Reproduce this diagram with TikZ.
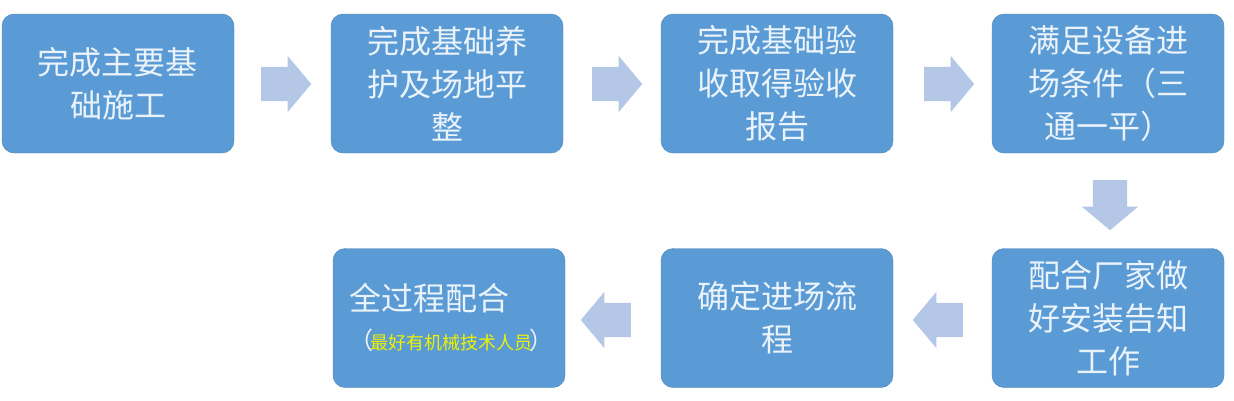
\documentclass[tikz,border=0pt]{standalone}
\usepackage{fontspec}
\newfontfamily\cjk{Noto Sans CJK SC}
\usetikzlibrary{shapes.arrows}
\definecolor{boxblue}{HTML}{5B9BD5}
\definecolor{arrowblue}{HTML}{B4C7E7}
\definecolor{txt}{HTML}{EAF2FA}
\definecolor{yel}{HTML}{EEF200}
\begin{document}
\begin{tikzpicture}[x=1pt,y=-1pt,
  stepbox/.style={fill=boxblue, draw=boxblue!85!black, line width=0.4pt, rounded corners=12pt,
    minimum width=232pt, minimum height=139pt, inner sep=0pt,
    text width=200pt, align=center, text=txt,
    font=\cjk\fontsize{32}{43}\selectfont},
  blockarrow/.style={single arrow, fill=arrowblue, draw=none, inner xsep=0pt, inner ysep=17pt,
    minimum height=50pt, single arrow head extend=11pt, single arrow tip angle=100}]
\useasboundingbox (0,0) rectangle (1234,400);
\fill[white] (0,0) rectangle (1234,400);
\node[stepbox] (b1) at (118,83.5) {完成主要基\\础施工};
\node[stepbox] (b2) at (447,83.5) {完成基础养\\护及场地平\\整};
\node[stepbox] (b3) at (777,83.5) {完成基础验\\收取得验收\\报告};
\node[stepbox] (b4) at (1108,83.5) {满足设备进\\场条件（三\\通一平）};
\node[stepbox] (b5) at (1108,318) {配合厂家做\\好安装告知\\工作};
\node[stepbox] (b6) at (777,318) {确定进场流\\程};
\node[stepbox, align=left, text width=200pt] (b7) at (449,318) {全过程配合\\[-4pt]{\fontsize{24}{26}\selectfont （\kern-3pt{\color{yel}\fontsize{18}{20}\selectfont 最好有机械技术人员}\kern-3pt）}};
\node[blockarrow] (a1) at (279,84) {};
\node[blockarrow] (a2) at (610,84) {};
\node[blockarrow] (a3) at (942,84) {};
\node[blockarrow, rotate=-90] (a4) at (1110,198) {};
\node[blockarrow, shape border rotate=180] (a5) at (945,320) {};
\node[blockarrow, shape border rotate=180] (a6) at (613,320) {};
\end{tikzpicture}
\end{document}
